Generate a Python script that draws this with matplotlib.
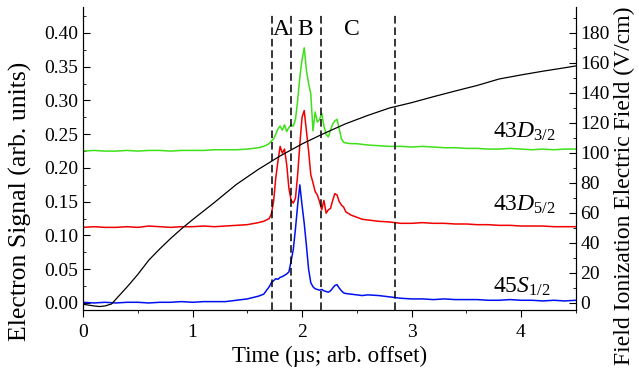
import numpy as np
import matplotlib
matplotlib.use("Agg")
import matplotlib.pyplot as plt
from matplotlib.ticker import MultipleLocator, FormatStrFormatter

plt.rcParams['font.family'] = ['Liberation Serif', 'DejaVu Serif']
plt.rcParams['mathtext.fontset'] = 'custom'
plt.rcParams['mathtext.rm'] = 'Liberation Serif'
plt.rcParams['mathtext.it'] = 'Liberation Serif:italic'

# time axis for the electron signals (us, arb. offset)
t = [0.0, 0.1, 0.2, 0.3, 0.4, 0.5, 0.6, 0.7, 0.8, 0.9, 1.0, 1.1, 1.2,
     1.3, 1.4, 1.5, 1.6, 1.65,
     1.70, 1.72, 1.74, 1.76, 1.78, 1.80, 1.82, 1.84, 1.86, 1.88,
     1.90, 1.92, 1.94, 1.96, 1.98, 2.00, 2.02, 2.04, 2.06, 2.08,
     2.10, 2.12, 2.14, 2.16, 2.18, 2.20, 2.22, 2.24, 2.26, 2.28,
     2.30, 2.32, 2.34, 2.36, 2.38, 2.40,
     2.45, 2.5, 2.55, 2.6, 2.7, 2.8, 2.9,
     3.0, 3.1, 3.2, 3.3, 3.4, 3.5, 3.6, 3.7, 3.8, 3.9, 4.0, 4.1, 4.2, 4.3, 4.4, 4.5]

s_45S12 = [0.001, 0.000, 0.001, 0.000, 0.001, 0.001, 0.000, 0.001, 0.001, 0.002, 0.001, 0.002, 0.002,
           0.002, 0.004, 0.006, 0.010, 0.013,
           0.024, 0.030, 0.033, 0.036, 0.035, 0.038, 0.039, 0.041, 0.043, 0.046,
           0.062, 0.079, 0.110, 0.145, 0.175, 0.145, 0.118, 0.085, 0.050, 0.030,
           0.024, 0.021, 0.020, 0.019, 0.020, 0.018, 0.017, 0.016, 0.018, 0.022,
           0.026, 0.027, 0.022, 0.018, 0.015, 0.014,
           0.013, 0.012, 0.011, 0.012, 0.011, 0.009, 0.007,
           0.006, 0.006, 0.005, 0.006, 0.005, 0.005, 0.005, 0.004, 0.004, 0.005, 0.004, 0.004, 0.003, 0.004, 0.003, 0.004]

s_43D52 = [0.112, 0.113, 0.112, 0.112, 0.113, 0.112, 0.114, 0.113, 0.112, 0.113, 0.113, 0.114, 0.113,
           0.114, 0.115, 0.116, 0.119, 0.121,
           0.125, 0.132, 0.150, 0.185, 0.210, 0.232, 0.222, 0.228, 0.205, 0.170,
           0.152, 0.148, 0.155, 0.190, 0.235, 0.275, 0.285, 0.255, 0.225, 0.190,
           0.178, 0.165, 0.160, 0.150, 0.138, 0.152, 0.133, 0.138, 0.140, 0.152,
           0.162, 0.160, 0.150, 0.145, 0.142, 0.135,
           0.130, 0.127, 0.124, 0.123, 0.121, 0.120, 0.118,
           0.118, 0.119, 0.118, 0.118, 0.117, 0.117, 0.116, 0.116, 0.115, 0.115, 0.114, 0.114, 0.114, 0.113, 0.113, 0.113]

s_43D32 = [0.225, 0.226, 0.225, 0.225, 0.226, 0.225, 0.226, 0.226, 0.225, 0.226, 0.226, 0.226, 0.227,
           0.227, 0.227, 0.228, 0.230, 0.232,
           0.236, 0.240, 0.243, 0.250, 0.258, 0.262, 0.256, 0.264, 0.254, 0.260,
           0.264, 0.262, 0.272, 0.300, 0.335, 0.360, 0.378, 0.345, 0.325, 0.310,
           0.255, 0.283, 0.268, 0.272, 0.281, 0.262, 0.250, 0.246, 0.256, 0.265,
           0.270, 0.272, 0.258, 0.243, 0.238, 0.237,
           0.236, 0.236, 0.235, 0.234, 0.233, 0.232, 0.232,
           0.231, 0.232, 0.231, 0.230, 0.230, 0.229, 0.229, 0.228, 0.228, 0.229, 0.228, 0.227, 0.228, 0.227, 0.228, 0.228]

# field ramp (V/cm)
t_field = [0.0, 0.1, 0.15, 0.2, 0.26, 0.3, 0.4, 0.5, 0.6, 0.7, 0.8, 0.9, 1.0, 1.2, 1.4,
           1.6, 1.8, 2.0, 2.2, 2.4, 2.6, 2.8, 3.0, 3.2, 3.4, 3.6, 3.8, 4.0, 4.2, 4.4, 4.5]
field = [-0.9, -2.0, -2.4, -2.0, -0.7, 2.5, 10.5, 19.0, 28.5, 36.0, 43.0, 49.5, 55.5, 67.0, 79.0,
         89.0, 98.0, 106.0, 113.0, 119.5, 125.0, 130.0, 133.5, 137.5, 141.3, 145.0, 149.3, 152.0, 154.5, 156.8, 158.0]

# region boundaries and names
boundaries = [1.725, 1.897, 2.172, 2.847]
region_names = ['A', 'B', 'C']
region_x = [1.81, 2.025, 2.455]

fig = plt.figure(figsize=(6.39, 3.72), dpi=100)
ax = fig.add_axes([0.130, 0.1667, 0.771, 0.8145])
ax2 = ax.twinx()

ax.plot(t, s_43D32, color='#3ee01a', lw=1.1)
ax.plot(t, s_43D52, color='#f00000', lw=1.1)
ax.plot(t, s_45S12, color='#0010f0', lw=1.1)
ax2.plot(t_field, field, color='black', lw=0.9)

for b in boundaries:
    ax.axvline(b, ymin=0, ymax=0.974, color='black', lw=1.1, ls=(0, (5, 2.5)))
for name, x in zip(region_names, region_x):
    ax.text(x, 0.405, name, fontsize=17, ha='center', va='center')

ax.text(3.74, 0.254, r'43$D_{3/2}$', fontsize=17, ha='left', va='center')
ax.text(3.74, 0.145, r'43$D_{5/2}$', fontsize=17, ha='left', va='center')
ax.text(3.74, 0.024, r'45$S_{1/2}$', fontsize=17, ha='left', va='center')

ax.set_xlim(0, 4.5)
ax.set_ylim(-0.0104, 0.4385)
ax2.set_ylim(-4.7, 197.3)

ax.xaxis.set_major_locator(MultipleLocator(1))
ax.xaxis.set_minor_locator(MultipleLocator(0.5))
ax.yaxis.set_major_locator(MultipleLocator(0.05))
ax.yaxis.set_minor_locator(MultipleLocator(0.025))
ax.yaxis.set_major_formatter(FormatStrFormatter('%.2f'))
ax2.yaxis.set_major_locator(MultipleLocator(20))
ax2.yaxis.set_minor_locator(MultipleLocator(10))

for a in (ax, ax2):
    a.spines['top'].set_visible(False)
ax.tick_params(axis='y', which='both', direction='in', labelsize=14)
ax.tick_params(axis='x', which='both', direction='out', labelsize=14, pad=5)
ax2.tick_params(axis='y', which='both', direction='in', labelsize=14)
for a in (ax, ax2):
    a.tick_params(which='major', length=5)
    a.tick_params(which='minor', length=2.5)

ax.set_xlabel('Time (\u00b5s; arb. offset)', fontsize=16.5)
ax.set_ylabel('Electron Signal (arb. units)', fontsize=18.5)
ax2.set_ylabel('Field Ionization Electric Field (V/cm)', fontsize=17)
ax.xaxis.set_label_coords(0.5, -0.118)
ax.yaxis.set_label_coords(-0.103, 0.36)
ax2.yaxis.set_label_coords(1.077, 0.41)

fig.savefig('out.png', dpi=100)
